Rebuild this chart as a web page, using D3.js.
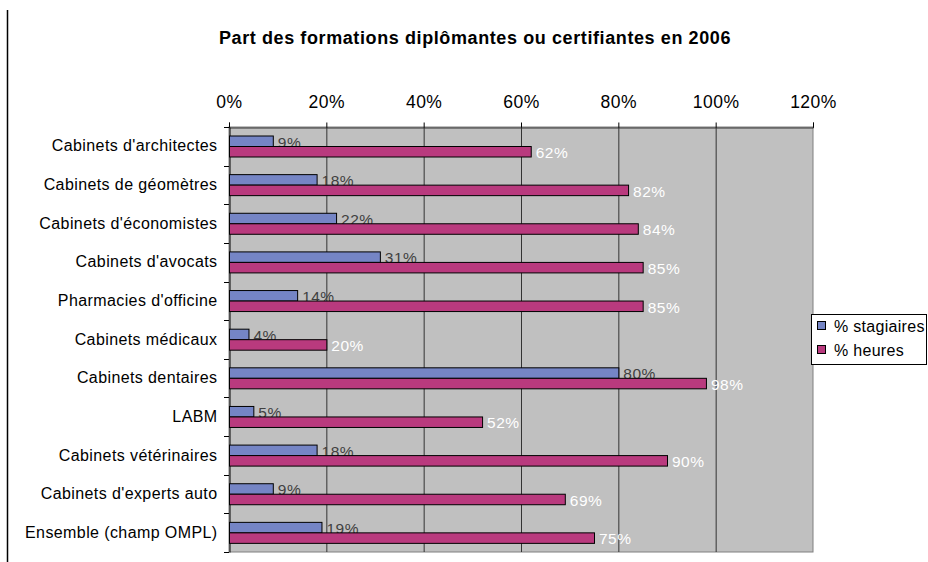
<!DOCTYPE html>
<html>
<head>
<meta charset="utf-8">
<script src="https://cdn.jsdelivr.net/npm/d3@7"></script>
<style>
  body { margin: 0; background: #fff; }
  svg { font-family: "Liberation Sans", Arial, sans-serif; }
</style>
</head>
<body>
<svg id="chart" width="928" height="562"></svg>
<script>
var categories = [
  "Cabinets d'architectes",
  "Cabinets de géomètres",
  "Cabinets d'économistes",
  "Cabinets d'avocats",
  "Pharmacies d'officine",
  "Cabinets médicaux",
  "Cabinets dentaires",
  "LABM",
  "Cabinets vétérinaires",
  "Cabinets d'experts auto",
  "Ensemble (champ OMPL)"
];
var stagiaires = [9, 18, 22, 31, 14, 4, 80, 5, 18, 9, 19];
var heures = [62, 82, 84, 85, 85, 20, 98, 52, 90, 69, 75];
var seriesNames = ["% stagiaires", "% heures"];
var ticks = [0, 20, 40, 60, 80, 100, 120];

var svg = d3.select("#chart");
var plotL = 229, plotR = 813, plotT = 127, plotB = 552;

// vertical line at page left
svg.append("line").attr("x1", 7.5).attr("x2", 7.5).attr("y1", 10).attr("y2", 562)
  .attr("stroke", "#000").attr("stroke-width", 1.5);

svg.append("text").attr("x", 475).attr("y", 44).attr("text-anchor", "middle")
  .attr("font-size", 18).attr("font-weight", "bold").attr("letter-spacing", 0.6)
  .text("Part des formations diplômantes ou certifiantes en 2006");

var x = d3.scaleLinear().domain([0, 120]).range([plotL, plotR]);
var y = d3.scaleBand().domain(categories).range([plotT, plotB]);
var sub = d3.scaleBand().domain(seriesNames).range([9, 30]);

svg.append("rect").attr("x", plotL).attr("y", plotT).attr("width", plotR - plotL).attr("height", plotB - plotT)
  .attr("fill", "#c0c0c0").attr("stroke", "#808080");

// gridlines
svg.selectAll("line.grid").data(ticks.slice(1, -1)).enter().append("line")
  .attr("x1", d => x(d) + 0.5).attr("x2", d => x(d) + 0.5)
  .attr("y1", plotT).attr("y2", plotB).attr("stroke", "#333");

// top axis
var xAxis = svg.append("g").attr("transform", "translate(0," + (plotT + 0.5) + ")")
  .call(d3.axisTop(x).tickValues(ticks).tickFormat(d => d + "%").tickSize(5).tickPadding(15));
xAxis.select(".domain").attr("stroke", "#333");
xAxis.selectAll("text").attr("font-size", 17.5).attr("letter-spacing", 0.5).attr("fill", "#000")
  .attr("font-family", "Liberation Sans, Arial, sans-serif");

// left axis
var yAxis = svg.append("g").attr("transform", "translate(" + (plotL + 0.5) + ",0)")
  .call(d3.axisLeft(y).tickSize(0).tickPadding(12));
yAxis.select(".domain").attr("stroke", "#000");
yAxis.selectAll("text").attr("font-size", 16).attr("letter-spacing", 0.4).attr("fill", "#000")
  .attr("font-family", "Liberation Sans, Arial, sans-serif");
var bounds = categories.map(c => y(c)).concat([plotB]);
svg.selectAll("line.ytick").data(bounds).enter().append("line")
  .attr("x1", plotL - 5).attr("x2", plotL).attr("y1", d => Math.round(d) + 0.5).attr("y2", d => Math.round(d) + 0.5)
  .attr("stroke", "#000");

// bars
var colors = { "% stagiaires": "#7585c5", "% heures": "#b93a7e" };
function drawSeries(name, values, labelColor) {
  var g = svg.append("g");
  g.selectAll("rect").data(values).enter().append("rect")
    .attr("x", plotL + 0.5)
    .attr("y", (d, i) => y(categories[i]) + sub(name))
    .attr("width", d => x(d) - plotL)
    .attr("height", sub.bandwidth())
    .attr("fill", colors[name]).attr("stroke", "#000").attr("stroke-width", 1);
  g.selectAll("text").data(values).enter().append("text")
    .attr("x", d => x(d) + 5)
    .attr("y", (d, i) => y(categories[i]) + sub(name) + sub.bandwidth() + 1)
    .attr("font-size", 15.5).attr("letter-spacing", 0.5).attr("fill", labelColor)
    .text(d => d + "%");
}
drawSeries("% stagiaires", stagiaires, "#404040");
drawSeries("% heures", heures, "#fff");

// legend
var lg = svg.append("g").attr("transform", "translate(811,314)");
lg.append("rect").attr("x", 0.5).attr("y", 0.5).attr("width", 115).attr("height", 50)
  .attr("fill", "#fff").attr("stroke", "#000");
seriesNames.forEach(function(n, i) {
  lg.append("rect").attr("x", 6.5).attr("y", 7.5 + i * 24).attr("width", 8).attr("height", 8)
    .attr("fill", colors[n]).attr("stroke", "#000");
  lg.append("text").attr("x", 23).attr("y", 18 + i * 24).attr("font-size", 16).attr("letter-spacing", 0.3).text(n);
});
</script>
</body>
</html>
